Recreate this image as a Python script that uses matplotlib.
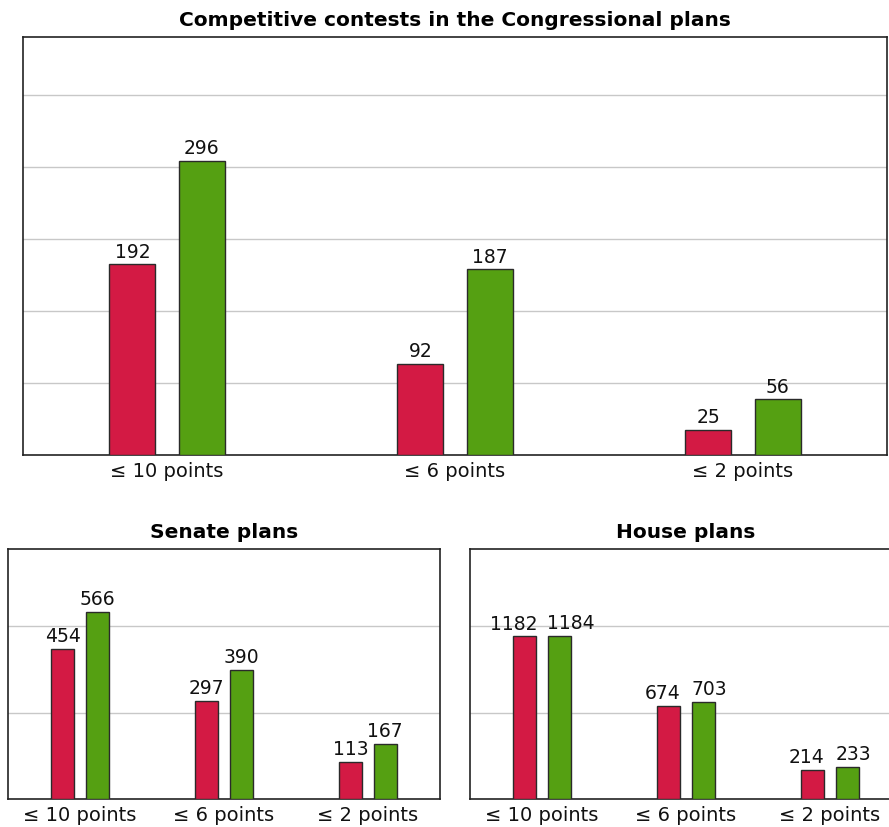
import matplotlib
matplotlib.use("Agg")
import matplotlib.pyplot as plt
import numpy as np

categories = ["\u2264 10 points", "\u2264 6 points", "\u2264 2 points"]

cong_red = [192, 92, 25]
cong_green = [296, 187, 56]
senate_red = [454, 297, 113]
senate_green = [566, 390, 167]
house_red = [1182, 674, 214]
house_green = [1184, 703, 233]

RED = "#D31A44"
GREEN = "#55A012"
EDGE = "#2a2a2a"

fig = plt.figure(figsize=(8.89, 8.27), dpi=100)
W, H = 889, 827


def add_ax(x0, y0, x1, y1):
    return fig.add_axes([x0 / W, 1 - y1 / H, (x1 - x0) / W, (y1 - y0) / H])


def draw(ax, title, red, green, ymax, grid_step, red_dx=(0, 0, 0), green_dx=(0, 0, 0)):
    x = np.arange(len(categories))
    w = 0.16
    off = 0.12
    b1 = ax.bar(x - off, red, w, color=RED, edgecolor=EDGE, linewidth=1, zorder=3)
    b2 = ax.bar(x + off, green, w, color=GREEN, edgecolor=EDGE, linewidth=1, zorder=3)
    for bars, vals, dxs in ((b1, red, red_dx), (b2, green, green_dx)):
        for rect, v, dx in zip(bars, vals, dxs):
            ax.annotate(str(v), (rect.get_x() + rect.get_width() / 2, rect.get_height()),
                        xytext=(dx, 2), textcoords="offset points",
                        ha="center", va="bottom", fontsize=13.5, color="#111111", zorder=4)
    ax.set_xlim(-0.5, len(categories) - 0.5)
    ax.set_ylim(0, ymax)
    ax.set_yticks(np.arange(grid_step, ymax, grid_step))
    ax.set_yticklabels([])
    ax.tick_params(axis="y", length=0)
    ax.set_xticks(x)
    ax.set_xticklabels(categories, fontsize=14, color="#111111")
    ax.tick_params(axis="x", length=0, pad=5)
    ax.grid(axis="y", color="#c8c8c8", linewidth=1, zorder=0)
    ax.set_axisbelow(True)
    for s in ax.spines.values():
        s.set_color("#222222")
        s.set_linewidth(1.2)
    ax.set_title(title, fontsize=14.5, fontweight="bold", pad=8)


ax_top = add_ax(23, 37, 887, 455)
draw(ax_top, "Competitive contests in the Congressional plans", cong_red, cong_green, 421, 72.6)

ax_sen = add_ax(8, 549, 440, 799)
draw(ax_sen, "Senate plans", senate_red, senate_green, 755, 261)

ax_house = add_ax(470, 549, 902, 799)
draw(ax_house, "House plans", house_red, house_green, 1816, 627,
     red_dx=(-8, -4.3, -4.3), green_dx=(8, 4.3, 4.3))

fig.savefig("out.png", dpi=100)
